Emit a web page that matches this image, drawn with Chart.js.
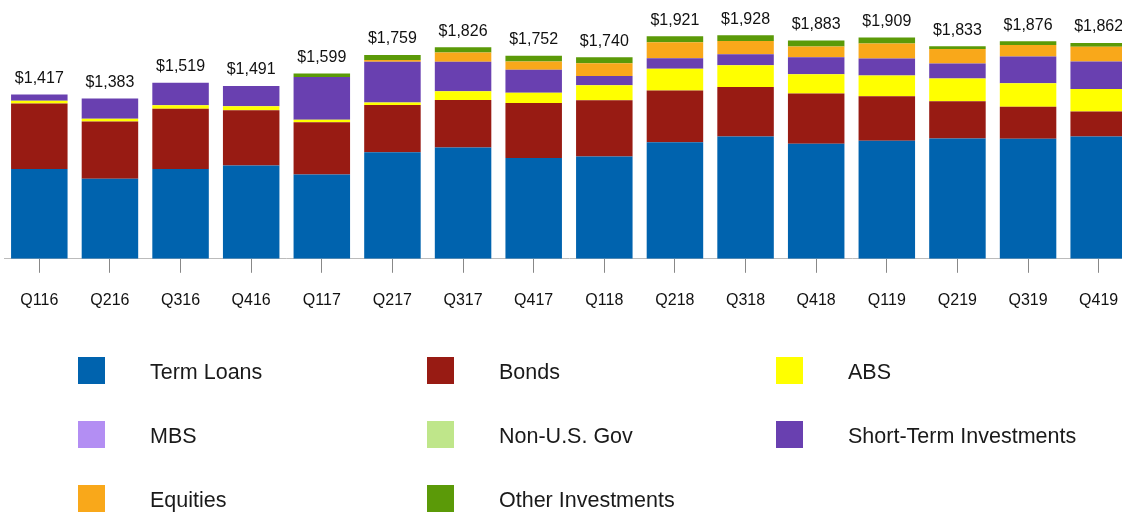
<!DOCTYPE html>
<html>
<head>
<meta charset="utf-8">
<script src="https://cdn.jsdelivr.net/npm/chart.js@4"></script>
<style>
  html, body { margin: 0; padding: 0; background: #fff; overflow: hidden; width: 1122px; height: 512px; }
  #wrap { position: absolute; left: 0; top: 0; width: 1140px; height: 339px; }
  #legend { position: absolute; left: 0; top: 0; width: 1122px; height: 512px; pointer-events: none;
            font-family: "Liberation Sans", Arial, sans-serif; font-size: 21.5px; color: #1a1a1a; }
  .sw { position: absolute; width: 27px; height: 27px; }
  .lt { position: absolute; line-height: 27px; white-space: nowrap; }
</style>
</head>
<body>
<div id="wrap"><canvas id="c" width="1140" height="339"></canvas></div>
<div id="legend"></div>
<script>
const categories = ["Q116","Q216","Q316","Q416","Q117","Q217","Q317","Q417","Q118","Q218","Q318","Q418","Q119","Q219","Q319","Q419"];

const termLoans  = [775, 691, 775, 804, 728, 919, 960, 870, 882, 1006, 1055, 992, 1018, 1038, 1035, 1055];
const bonds      = [566, 494, 520, 477, 451, 407, 410, 475, 486, 446, 427, 434, 384, 321, 277, 217];
const abs        = [23, 23, 29, 35, 21, 23, 75, 87, 130, 187, 188, 167, 179, 197, 202, 193];
const mbs        = [0, 0, 0, 0, 0, 0, 0, 0, 0, 0, 0, 0, 0, 0, 0, 0];
const nonUSGov   = [0, 0, 0, 0, 0, 0, 0, 0, 0, 0, 0, 0, 0, 0, 0, 0];
const shortTerm  = [53, 175, 195, 175, 368, 352, 256, 200, 79, 92, 94, 146, 148, 130, 232, 238];
const equities   = [0, 0, 0, 0, 0, 14, 79, 70, 111, 138, 115, 92, 128, 124, 98, 127];
const otherInv   = [0, 0, 0, 0, 31, 44, 46, 50, 52, 52, 49, 52, 52, 23, 32, 32];

const seriesNames = ["Term Loans","Bonds","ABS","MBS","Non-U.S. Gov","Short-Term Investments","Equities","Other Investments"];
const seriesData = [termLoans, bonds, abs, mbs, nonUSGov, shortTerm, equities, otherInv];
const seriesColors = ["#0063AE","#981B13","#FFFF00","#B38EF3","#BFE68A","#6940B0","#F9A81A","#5B9A08"];

const datasets = seriesNames.map((n, i) => ({
  label: n,
  data: seriesData[i],
  backgroundColor: seriesColors[i],
  borderWidth: 0,
  barPercentage: 0.8,
  categoryPercentage: 1.0,
  stack: "s"
}));

const totalsPlugin = {
  id: "totals",
  afterDatasetsDraw(chart) {
    const ctx = chart.ctx;
    const y = chart.scales.y, x = chart.scales.x;
    ctx.save();
    ctx.font = '16px "Liberation Sans", Arial, sans-serif';
    ctx.fillStyle = "#111";
    ctx.textAlign = "center";
    ctx.textBaseline = "middle";
    categories.forEach((c, i) => {
      let t = 0;
      seriesData.forEach(s => t += s[i]);
      const px = x.getPixelForValue(i);
      const py = y.getPixelForValue(t) - 16;
      ctx.fillText("$" + t.toLocaleString("en-US"), px, py);
    });
    ctx.restore();
  }
};

new Chart(document.getElementById("c"), {
  type: "bar",
  data: { labels: categories, datasets },
  options: {
    responsive: false,
    animation: false,
    layout: { padding: { left: 4, right: 6, top: 27, bottom: 11 } },
    plugins: { legend: { display: false }, tooltip: { enabled: false } },
    scales: {
      x: {
        stacked: true,
        grid: { display: true, drawOnChartArea: false, offset: false, tickLength: 14, color: "#888", lineWidth: 1 },
        border: { display: true, color: "#bbb", width: 1 },
        ticks: { color: "#111", padding: 18, font: { family: '"Liberation Sans", Arial, sans-serif', size: 16 } }
      },
      y: {
        stacked: true,
        display: false,
        min: 0,
        max: 2000
      }
    }
  },
  plugins: [totalsPlugin]
});

// Legend grid (3 columns)
const legend = document.getElementById("legend");
const colSw = [78, 427, 776];
const colTx = [150, 499, 848];
const rowTop = [357, 421, 485];
seriesNames.forEach((n, i) => {
  const r = Math.floor(i / 3), c = i % 3;
  const sw = document.createElement("div");
  sw.className = "sw";
  sw.style.left = colSw[c] + "px";
  sw.style.top = rowTop[r] + "px";
  sw.style.background = seriesColors[i];
  legend.appendChild(sw);
  const t = document.createElement("div");
  t.className = "lt";
  t.style.left = colTx[c] + "px";
  t.style.top = (rowTop[r] + 2) + "px";
  t.textContent = n;
  legend.appendChild(t);
});
</script>
</body>
</html>
